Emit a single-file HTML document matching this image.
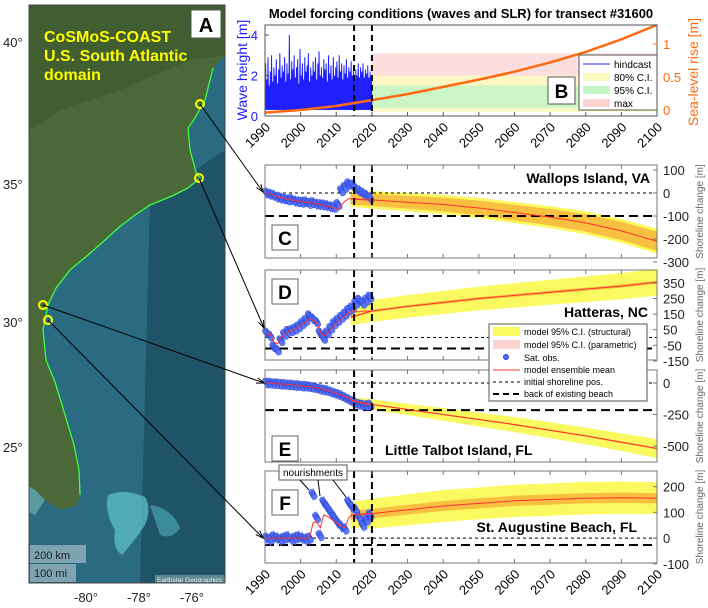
<!DOCTYPE html>
<html><head><meta charset="utf-8"><style>
body{margin:0;background:#fff;}
svg{display:block;font-family:"Liberation Sans",Arial,sans-serif;}
</style></head><body>
<svg id="fig" width="708" height="608" viewBox="0 0 708 608" xmlns="http://www.w3.org/2000/svg">
<g id="map">
<rect x="29" y="5" width="196" height="578" fill="#2a6b82"/>
<path d="M150,200 L225,150 L225,583 L140,583 Z" fill="#1d4d62" opacity="0.8"/>
<path fill="#4a6838" d="M29,5 L225,5 L225,55 L213,68 L205,100 L195,118 L188,128 L190,150 L196,172 L200,178 L188,188 L172,196 L150,205 L135,215 L118,228 L105,240 L88,255 L70,270 L56,288 L48,305 L43,330 L46,360 L55,382 L62,405 L68,425 L74,445 L79,470 L80,495 L77,505 L60,510 L45,500 L35,490 L29,486 Z"/>
<path d="M29,5 L225,5 L225,55 L190,60 L120,90 L60,110 L29,130 Z" fill="#3c5a2c" opacity="0.7"/>
<path d="M29,486 L35,490 L45,500 L35,515 L29,512 Z" fill="#6fb0a8" opacity="0.7"/>
<path d="M108,495 Q125,488 145,497 Q152,508 145,525 Q135,540 122,555 Q112,548 115,530 Q104,512 108,495 Z" fill="#5fc0c8" opacity="0.75"/>
<path d="M150,505 Q172,508 180,528 Q172,540 160,535 Z" fill="#4fb0c0" opacity="0.6"/>
<path d="M213,68 L205,100 L195,118 L188,128 L190,150 L196,172 L200,178 L188,188 L172,196 L150,205 L135,215 L118,228 L105,240 L88,255 L70,270 L56,288 L48,305 L43,330 L46,360 L55,382 L62,405 L68,425 L74,445 L79,470 L80,495" fill="none" stroke="#3cff3c" stroke-width="1.3"/>
<rect x="191" y="10" width="30" height="28" fill="#fff" stroke="#555"/>
<text x="206" y="32" font-size="20" font-weight="bold" text-anchor="middle">A</text>
<text x="44" y="42" font-size="16" font-weight="bold" fill="#ffff00">CoSMoS-COAST</text>
<text x="44" y="61" font-size="16" font-weight="bold" fill="#ffff00">U.S. South Atlantic</text>
<text x="44" y="80" font-size="16" font-weight="bold" fill="#ffff00">domain</text>
<rect x="30" y="545" width="56" height="18" fill="#9bb5c0" opacity="0.75"/>
<text x="34" y="559" font-size="11" fill="#222">200 km</text>
<rect x="30" y="564" width="46" height="18" fill="#9bb5c0" opacity="0.75"/>
<text x="34" y="577" font-size="11" fill="#222">100 mi</text>
<rect x="155" y="575" width="70" height="8" fill="#8aa" opacity="0.6"/>
<text x="157" y="582" font-size="6.5" fill="#eee">Earthstar Geographics</text>
<rect x="29" y="5" width="196" height="578" fill="none" stroke="#444"/>
<g font-size="13" fill="#222">
<text x="3" y="47">40°</text><text x="3" y="189">35°</text><text x="3" y="327">30°</text><text x="3" y="452">25°</text>
</g>
<g font-size="13" fill="#222" text-anchor="middle">
<text x="86" y="602">-80°</text><text x="139" y="602">-78°</text><text x="192" y="602">-76°</text>
</g>
<g fill="none" stroke="#ffff00" stroke-width="2">
<circle cx="200" cy="104" r="4"/><circle cx="199" cy="178" r="4"/><circle cx="43" cy="305" r="4"/><circle cx="48" cy="320" r="4"/>
</g>
</g>
<g id="plots"></g>
</svg>
<script>
// ---- data ----
const xTicks=[1990,2000,2010,2020,2030,2040,2050,2060,2070,2080,2090,2100];
const wavePeaks=[2.6,1.8,2.9,1.5,2.2,3.0,1.7,2.4,2.0,2.8,1.6,2.3,3.1,1.9,2.5,2.2,2.9,1.7,2.6,2.1,4.0,1.8,2.7,2.3,3.0,1.9,2.4,2.8,1.6,3.3,2.0,2.6,1.8,2.9,2.2,2.5,3.1,1.7,2.4,2.0,2.7,2.2,2.9,1.8,2.6,3.2,2.0,2.4,1.9,2.8,2.3,2.6,1.7,3.0,2.1,2.5,1.8,2.9,2.0,2.4,2.7,1.9,3.0,2.2,2.6,1.8,2.5,2.1,2.8,1.9,2.4,2.2,2.7,2.0,2.5,1.8,2.3,2.0,2.6,1.9,2.4,2.2,2.6,1.9,2.3,2.1,2.5,1.9,2.2,2.0];
const waveMaxBand=[0.3,3.1];
const wave80Band=[0.2,2.0];
const wave95Band=[0.4,1.5];
const slrYears=[1990,2000,2010,2020,2030,2040,2050,2060,2070,2080,2090,2100];
const slrValues=[-0.04,0.0,0.06,0.15,0.24,0.35,0.46,0.58,0.72,0.88,1.07,1.29];

const obsYears=[1990,1991,1992,1993,1994,1995,1996,1997,1998,1999,2000,2001,2002,2003,2004,2005,2006,2007,2008,2009,2010,2011,2012,2013,2014,2015,2016,2017,2018,2019];
const projYears=[2014,2020,2030,2040,2050,2060,2070,2080,2090,2100];
// Panel C
const obsC=[0,-5,-10,-18,-22,-25,-30,-28,-35,-38,-40,-38,-45,-42,-48,-50,-52,-55,-60,-62,-50,10,25,40,35,20,10,0,-10,-20];
const meanHistC=[0,-5,-10,-15,-20,-24,-28,-30,-33,-36,-38,-40,-42,-44,-46,-50,-54,-58,-62,-66,-70,-50,-35,-25,-25,-28,-28,-30,-30,-30];
const meanC=[-25,-30,-40,-50,-65,-85,-105,-130,-165,-210];
const ciStructC=[35,38,40,42,44,46,48,50,52,55];
const ciParamC=[25,26,28,30,32,34,36,38,40,42];
// Panel D
const obsD=[30,10,-60,-80,-20,20,40,45,55,70,90,110,140,120,100,30,-5,30,60,90,110,130,150,175,190,220,240,220,240,260];
const meanHistD=[30,20,-30,-40,0,20,35,45,55,70,85,100,120,110,95,40,10,30,55,80,100,120,140,160,170,165,165,170,170,170];
const meanD=[130,170,200,225,250,270,290,310,330,355];
const ciStructD=[50,70,72,74,76,78,80,82,84,86];
const ciParamD=[8,8,8,9,9,9,10,10,10,10];
// Panel E
const obsE=[0,0,-5,-5,-10,-10,-15,-15,-20,-20,-25,-25,-30,-35,-40,-50,-55,-60,-70,-80,-90,-100,-115,-130,-145,-160,-170,-175,-180,-175];
const meanHistE=[0,-2,-4,-6,-8,-10,-12,-15,-18,-21,-24,-27,-30,-34,-38,-45,-52,-60,-68,-78,-88,-98,-110,-122,-134,-145,-155,-162,-168,-170];
const meanE=[-140,-170,-210,-250,-290,-330,-375,-420,-470,-520];
const ciStructE=[30,40,45,50,55,60,63,66,70,75];
const ciParamE=[5,5,6,6,6,7,7,7,8,8];
// Panel F
const obsF=[0,-5,5,0,-5,0,5,-5,0,5,0,-5,0,170,80,10,140,120,100,80,60,45,35,140,120,110,80,50,70,90];
const meanHistF=[0,0,0,0,0,0,0,0,0,0,0,0,0,60,65,40,90,85,75,65,55,45,40,80,90,90,92,95,95,95];
const meanF=[90,95,110,125,135,145,150,155,157,155];
const ciStructF=[50,58,60,62,62,63,63,63,63,62];
const ciParamF=[18,18,19,19,20,20,20,20,20,20];

// ---- layout ----
const NS="http://www.w3.org/2000/svg";
const X0=265,X1=657;
function x(yr){return X0+(yr-1990)*(X1-X0)/110;}
const plots=document.getElementById('plots');
function el(tag,attrs,parent,txt){const e=document.createElementNS(NS,tag);for(const k in attrs)e.setAttribute(k,attrs[k]);if(txt!==undefined)e.textContent=txt;(parent||plots).appendChild(e);return e;}

// ---- Panel B ----
const gB=el('g',{});


const BT=25,BB=116;
function yW(v){return 116-v*20.25;}
function yS(v){return 110-v*66;}
el('text',{x:461,y:18,'font-size':13,'font-weight':'bold','text-anchor':'middle'},gB,'Model forcing conditions (waves and SLR) for transect #31600');
const bMax=el('rect',{x:x(2020),y:yW(waveMaxBand[1]),width:x(2100)-x(2020),height:yW(waveMaxBand[0])-yW(waveMaxBand[1]),fill:'#fbd3d3',opacity:0.75},gB);


const b80=el('rect',{x:x(2020),y:yW(wave80Band[1]),width:x(2100)-x(2020),height:yW(wave80Band[0])-yW(wave80Band[1]),fill:'#fafac0',opacity:0.85},gB);


const b95=el('rect',{x:x(2020),y:yW(wave95Band[1]),width:x(2100)-x(2020),height:yW(wave95Band[0])-yW(wave95Band[1]),fill:'#c6f5c6',opacity:0.9},gB);


let pts=[];const n=wavePeaks.length;
for(let i=0;i<n;i++){const t=1990+30*i/n;pts.push(x(t)+','+yW(0.35));pts.push(x(t+30/n/2)+','+yW(wavePeaks[i]));}
pts.push(x(2020)+','+yW(0.35));
const baseFill=el('rect',{x:x(1990),y:yW(1.2),width:x(2020)-x(1990),height:yW(0.3)-yW(1.2),fill:'#1a1aff'},gB);


const hind=el('polyline',{points:pts.join(' '),fill:'none',stroke:'#2020ff','stroke-width':1},gB);


const slr=el('polyline',{points:slrYears.map((t,i)=>x(t)+','+yS(slrValues[i])).join(' '),fill:'none',stroke:'#ff6a10','stroke-width':2.5},gB);


[2015,2020].forEach(t=>{const l=el('line',{x1:x(t),x2:x(t),y1:BT,y2:BB,stroke:'#000','stroke-width':2,'stroke-dasharray':'6,4'},gB);

});
el('rect',{x:X0,y:BT,width:X1-X0,height:BB-BT,fill:'none',stroke:'#555'},gB);
[0,2,4].forEach(v=>{el('text',{x:258,y:yW(v)+5,'font-size':13,fill:'#1a1aff','text-anchor':'end'},gB,String(v));el('line',{x1:X0,x2:X0+4,y1:yW(v),y2:yW(v),stroke:'#555'},gB);});
[[0,'0'],[0.5,'0.5'],[1,'1']].forEach(([v,s])=>{el('text',{x:663,y:yS(v)+5,'font-size':13,fill:'#ff6a10'},gB,s);el('line',{x1:X1-4,x2:X1,y1:yS(v),y2:yS(v),stroke:'#ff6a10'},gB);});
const wl=el('text',{x:247,y:70,'font-size':14,fill:'#1a1aff','text-anchor':'middle',transform:'rotate(-90 247 70)'},gB,'Wave height [m]');


const sl=el('text',{x:698,y:72,'font-size':14,fill:'#ff6a10','text-anchor':'middle',transform:'rotate(-90 698 72)'},gB,'Sea-level rise [m]');


xTicks.forEach(t=>{el('line',{x1:x(t),x2:x(t),y1:BB,y2:BB-4,stroke:'#555'},gB);
const tl=el('text',{x:x(t)+6,y:BB+12,'font-size':13,'text-anchor':'end',transform:`rotate(-45 ${x(t)+6} ${BB+12})`},gB,String(t));

});
const lgB=el('g',{},gB);


el('rect',{x:579,y:55,width:78,height:55,fill:'#fff',stroke:'#555'},lgB);
el('line',{x1:583,x2:610,y1:64,y2:64,stroke:'#2020ff'},lgB);el('text',{x:614,y:68,'font-size':10},lgB,'hindcast');
el('rect',{x:583,y:73,width:27,height:8,fill:'#fafac0'},lgB);el('text',{x:614,y:81,'font-size':10},lgB,'80% C.I.');
el('rect',{x:583,y:86,width:27,height:8,fill:'#c6f5c6'},lgB);el('text',{x:614,y:94,'font-size':10},lgB,'95% C.I.');
el('rect',{x:583,y:99,width:27,height:8,fill:'#fbd3d3'},lgB);el('text',{x:614,y:107,'font-size':10},lgB,'max');
el('rect',{x:548,y:77,width:27,height:27,fill:'#fff',stroke:'#555'},gB);
el('text',{x:561.5,y:98,'font-size':19,'font-weight':'bold','text-anchor':'middle'},gB,'B');

// ---- shoreline panels ----
const panels=[
 {id:'c',L:'C',top:165,bot:258,vmax:122,vmin:-283,ticks:[100,0,-100,-200,-300],beach:-100,obs:obsC,mh:meanHistC,mean:meanC,cs:ciStructC,cp:ciParamC,site:'Wallops Island, VA',sx:650,sy:183,anchor:'end',box:225},
 {id:'d',L:'D',top:270,bot:360,vmax:433,vmin:-144,ticks:[350,250,150,50,-50,-150],beach:-70,obs:obsD,mh:meanHistD,mean:meanD,cs:ciStructD,cp:ciParamD,site:'Hatteras, NC',sx:648,sy:317,anchor:'end',box:279},
 {id:'e',L:'E',top:370,bot:462,vmax:103,vmin:-627,ticks:[0,-250,-500],beach:-215,obs:obsE,mh:meanHistE,mean:meanE,cs:ciStructE,cp:ciParamE,site:'Little Talbot Island, FL',sx:385,sy:455,anchor:'start',box:436},
 {id:'f',L:'F',top:471,bot:563,vmax:261,vmin:-97,ticks:[200,100,0,-100],beach:-27,obs:obsF,mh:meanHistF,mean:meanF,cs:ciStructF,cp:ciParamF,site:'St. Augustine Beach, FL',sx:637,sy:532,anchor:'end',box:490}
];
panels.forEach(P=>{
 const g=el('g',{});
 
 
 const y=v=>P.top+(P.vmax-v)*(P.bot-P.top)/(P.vmax-P.vmin);
 const band=(w,fill)=>{const up=projYears.map((t,i)=>x(t)+','+y(P.mean[i]+w[i]));const dn=projYears.map((t,i)=>x(t)+','+y(P.mean[i]-w[i])).reverse();return el('polygon',{points:up.concat(dn).join(' '),fill:fill},g);};
 const bs=band(P.cs,'#fafa60');
 
 
 const bp=band(P.cp,'#f7c040');
 
 
 const il=el('line',{x1:X0,x2:X1,y1:y(0),y2:y(0),stroke:'#000','stroke-width':1,'stroke-dasharray':'3,3'},g);
 
 
 const bl=el('line',{x1:X0,x2:X1,y1:y(P.beach),y2:y(P.beach),stroke:'#000','stroke-width':2,'stroke-dasharray':'9,5'},g);
 
 
 P.obs.forEach((v,i)=>{
  const eb=el('line',{x1:x(obsYears[i]+0.5),x2:x(obsYears[i]+0.5),y1:y(v+25),y2:y(v-25),stroke:'#8ab4ff','stroke-width':1},g);
  
  
 });
 P.obs.forEach((v,i)=>{
  [0.1,0.35,0.6,0.85].forEach((o,k)=>{
  const c=el('circle',{cx:x(obsYears[i]+o),cy:y(v)+(k-1.5)*1.5,r:2.8,fill:'#5577ff',stroke:'#2a3fd0','stroke-width':0.7,opacity:0.85},g);
  
  });
 });
 const mh=el('polyline',{points:P.mh.map((v,i)=>x(obsYears[i]+0.5)+','+y(v)).join(' '),fill:'none',stroke:'#ff3030','stroke-width':1},g);
 
 
 const mf=el('polyline',{points:projYears.map((t,i)=>x(t)+','+y(P.mean[i])).join(' '),fill:'none',stroke:'#ff3030','stroke-width':1},g);
 
 
 [2015,2020].forEach(t=>{const l=el('line',{x1:x(t),x2:x(t),y1:P.top,y2:P.bot,stroke:'#000','stroke-width':2,'stroke-dasharray':'7,4'},g);
 
 });
 el('rect',{x:X0,y:P.top,width:X1-X0,height:P.bot-P.top,fill:'none',stroke:'#777'},g);
 xTicks.forEach(t=>{el('line',{x1:x(t),x2:x(t),y1:P.bot,y2:P.bot-4,stroke:'#777'},g);el('line',{x1:x(t),x2:x(t),y1:P.top,y2:P.top+4,stroke:'#777'},g);});
 P.ticks.forEach(v=>{el('line',{x1:X1-4,x2:X1,y1:y(v),y2:y(v),stroke:'#777'},g);
 const tl=el('text',{x:663,y:y(v)+5,'font-size':13,fill:'#222'},g,String(v));
 
 });
 const mid=(P.top+P.bot)/2;
 const yt=el('text',{x:703,y:mid,'font-size':10,fill:'#666','text-anchor':'middle',transform:`rotate(-90 703 ${mid})`},g,'Shoreline change [m]');
 
 
 const st=el('text',{x:P.sx,y:P.sy,'font-size':14,'font-weight':'bold','text-anchor':P.anchor},g,P.site);
 
 
 el('rect',{x:272,y:P.box,width:26,height:25,fill:'#fff',stroke:'#666'},g);
 el('text',{x:285,y:P.box+20,'font-size':19,'font-weight':'bold','text-anchor':'middle'},g,P.L);
});
xTicks.forEach(t=>{const tl=el('text',{x:x(t)+6,y:575,'font-size':13,'text-anchor':'end',transform:`rotate(-45 ${x(t)+6} 575)`},plots,String(t));

});
const lg=el('g',{});


el('rect',{x:489,y:324,width:158,height:77,fill:'#fff',stroke:'#555'},lg);
el('rect',{x:493,y:327,width:27,height:9,fill:'#fafa60'},lg);el('text',{x:524,y:335,'font-size':9},lg,'model 95% C.I. (structural)');
el('rect',{x:493,y:340,width:27,height:9,fill:'#fbd3d3'},lg);el('text',{x:524,y:348,'font-size':9},lg,'model 95% C.I. (parametric)');
el('circle',{cx:506,cy:357,r:2.5,fill:'#4a6cff',stroke:'#2a3fd0'},lg);el('text',{x:524,y:361,'font-size':9},lg,'Sat. obs.');
el('line',{x1:493,x2:520,y1:370,y2:370,stroke:'#ff3030'},lg);el('text',{x:524,y:373,'font-size':9},lg,'model ensemble mean');
el('line',{x1:493,x2:520,y1:382,y2:382,stroke:'#000','stroke-dasharray':'3,3'},lg);el('text',{x:524,y:385,'font-size':9},lg,'initial shoreline pos.');
el('line',{x1:493,x2:520,y1:394,y2:394,stroke:'#000','stroke-width':2,'stroke-dasharray':'6,4'},lg);el('text',{x:524,y:397,'font-size':9},lg,'back of existing beach');
const nb=el('g',{});


el('rect',{x:279,y:465,width:68,height:15,fill:'#fff',stroke:'#555'},nb);
el('text',{x:313,y:476,'font-size':10,'text-anchor':'middle'},nb,'nourishments');
[[300,480,309,490],[318,480,320,496],[333,480,346,497]].forEach(a=>{el('line',{x1:a[0],y1:a[1],x2:a[2],y2:a[3],stroke:'#000','stroke-width':1},nb);});
const arrows=[[200,104,263,192],[199,178,264,328],[43,305,264,383],[48,320,263,538]];
const ag=el('g',{});


arrows.forEach(a=>{el('line',{x1:a[0],y1:a[1],x2:a[2],y2:a[3],stroke:'#000','stroke-width':1},ag);
const ang=Math.atan2(a[3]-a[1],a[2]-a[0]);const L=8;
const p1=[a[2]-L*Math.cos(ang-0.35),a[3]-L*Math.sin(ang-0.35)],p2=[a[2]-L*Math.cos(ang+0.35),a[3]-L*Math.sin(ang+0.35)];
el('polyline',{points:`${p1} ${a[2]},${a[3]} ${p2}`,fill:'none',stroke:'#000','stroke-width':1},ag);});
</script>
</body></html>
